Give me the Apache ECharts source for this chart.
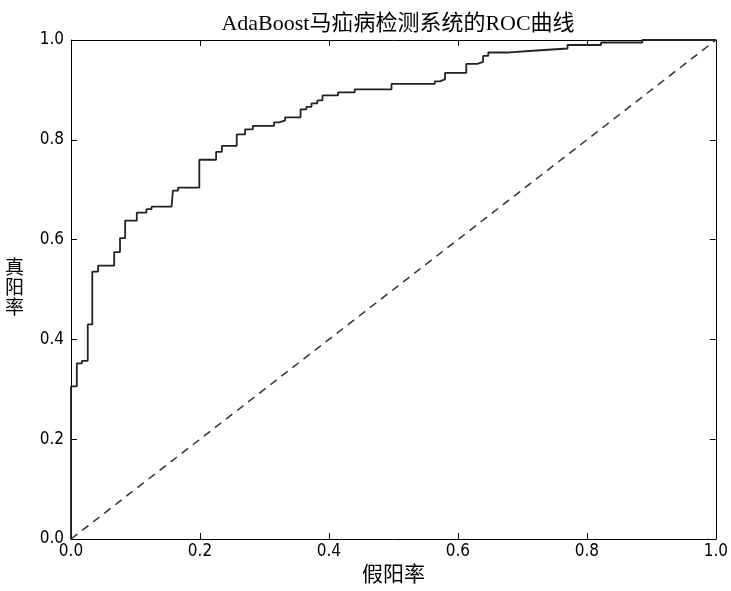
<!DOCTYPE html>
<html>
<head>
<meta charset="utf-8">
<script src="https://cdn.jsdelivr.net/npm/echarts@6/dist/echarts.min.js"></script>
<style>
html,body{margin:0;padding:0;background:#fff;}
#chart{width:731px;height:591px;}
</style>
</head>
<body>
<div id="chart"></div>
<script>
// ROC curve corner points (false positive rate, true positive rate)
var fpr = [0, 0, 0.009, 0.017, 0.026, 0.033, 0.042, 0.067, 0.076, 0.084, 0.102, 0.117, 0.125, 0.156, 0.158, 0.166, 0.199, 0.225, 0.234, 0.257, 0.270, 0.282, 0.315, 0.323, 0.332, 0.356, 0.365, 0.373, 0.382, 0.390, 0.414, 0.440, 0.497, 0.564, 0.572, 0.580, 0.613, 0.630, 0.639, 0.647, 0.680, 0.722, 0.770, 0.822, 0.886, 1.0];
var tpr = [0, 0.306, 0.352, 0.357, 0.430, 0.536, 0.548, 0.575, 0.603, 0.638, 0.654, 0.661, 0.666, 0.669, 0.698, 0.704, 0.760, 0.776, 0.788, 0.811, 0.821, 0.828, 0.835, 0.839, 0.845, 0.861, 0.866, 0.873, 0.879, 0.889, 0.895, 0.901, 0.912, 0.917, 0.921, 0.934, 0.952, 0.956, 0.968, 0.975, 0.979, 0.983, 0.990, 0.995, 1.0, 1.0];
var diagX = [0, 1];
var diagY = [0, 1];
var titleText = 'AdaBoost马疝病检测系统的ROC曲线';
var xName = '假阳率';
var yName = '真阳率';

var rocData = fpr.map(function (x, i) { return [x, tpr[i]]; });
var diagData = diagX.map(function (x, i) { return [x, diagY[i]]; });

var chart = echarts.init(document.getElementById('chart'), null, {renderer: 'canvas'});
var serif = '"Liberation Serif", "Noto Sans CJK SC", serif';
var tickFont = '"DejaVu Sans Condensed", "DejaVu Sans", sans-serif';

function axisBase(show) {
  return {
    type: 'value', min: 0, max: 1, interval: 0.2,
    axisLine: {show: true, onZero: false, lineStyle: {color: '#000', width: 1}},
    axisTick: {show: true, inside: true, length: 6, lineStyle: {color: '#000'}},
    axisLabel: {show: show, color: '#000', fontFamily: tickFont, fontSize: 17,
      formatter: function (v) { return v.toFixed(1); }},
    splitLine: {show: false}
  };
}
var xBottom = axisBase(true);
xBottom.position = 'bottom';
xBottom.name = xName;
xBottom.nameLocation = 'middle';
xBottom.nameGap = 26;
xBottom.nameTextStyle = {color: '#000', fontFamily: serif, fontSize: 21};
xBottom.axisLabel.margin = 4;
var xTop = axisBase(false);
xTop.position = 'top';
var yLeft = axisBase(true);
yLeft.position = 'left';
yLeft.name = yName.split('').join('\n');
yLeft.nameLocation = 'middle';
yLeft.nameRotate = 0;
yLeft.nameGap = 47;
yLeft.nameTextStyle = {color: '#000', fontFamily: serif, fontSize: 19, lineHeight: 20, padding: [10, 0, 0, 0]};
yLeft.axisLabel.margin = 7;
var yRight = axisBase(false);
yRight.position = 'right';

chart.setOption({
  animation: false,
  backgroundColor: '#fff',
  title: {
    text: titleText, left: 393, top: 8, textAlign: 'center',
    textStyle: {color: '#000', fontFamily: serif, fontSize: 22, fontWeight: 'normal'}
  },
  grid: {left: 71, right: 15, top: 40, bottom: 47, containLabel: false},
  xAxis: [xBottom, xTop],
  yAxis: [yLeft, yRight],
  series: [
    {
      type: 'line', data: rocData, step: 'end', symbol: 'none',
      xAxisIndex: 0, yAxisIndex: 0,
      lineStyle: {color: '#222', width: 1.8}, z: 3
    },
    {
      type: 'line', data: diagData, symbol: 'none',
      xAxisIndex: 0, yAxisIndex: 0,
      lineStyle: {color: '#333', width: 1.5, type: [8, 6]}, z: 2
    }
  ]
});
</script>
</body>
</html>
